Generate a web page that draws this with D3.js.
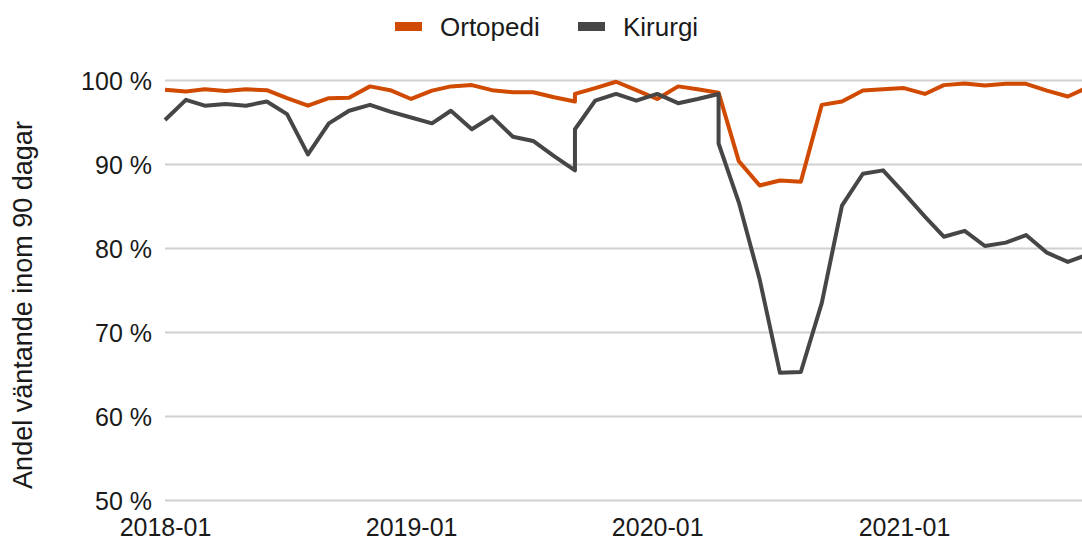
<!DOCTYPE html>
<html>
<head>
<meta charset="utf-8">
<script src="https://cdn.jsdelivr.net/npm/d3@7"></script>
<style>
body { margin: 0; background: #fff; }
svg { display: block; font-family: "Liberation Sans", Arial, sans-serif; }
</style>
</head>
<body>
<div class="chart"></div>
<script>
// data (percent waiting within 90 days)
// 2019-09 and 2020-04 appear twice: the series jump at those months
const months = [
  "2018-01","2018-02","2018-03","2018-04","2018-05","2018-06","2018-07","2018-08","2018-09","2018-10","2018-11","2018-12",
  "2019-01","2019-02","2019-03","2019-04","2019-05","2019-06","2019-07","2019-08","2019-09","2019-09","2019-10","2019-11","2019-12",
  "2020-01","2020-02","2020-03","2020-04","2020-04","2020-05","2020-06","2020-07","2020-08","2020-09","2020-10","2020-11","2020-12",
  "2021-01","2021-02","2021-03","2021-04","2021-05","2021-06","2021-07","2021-08","2021-09","2021-10"
];
const ortopedi = [
  98.9, 98.7, 98.95, 98.75, 98.95, 98.85, 97.9, 97.0, 97.9, 97.95, 99.3, 98.85,
  97.8, 98.8, 99.3, 99.45, 98.85, 98.6, 98.6, 98.0, 97.5, 98.4, 99.1, 99.85, 98.85,
  97.8, 99.3, 98.95, 98.55, 98.55, 90.4, 87.5, 88.1, 87.95, 97.1, 97.5, 98.8, 98.95,
  99.1, 98.4, 99.45, 99.65, 99.4, 99.6, 99.6, 98.8, 98.1, 99.2
];
const kirurgi = [
  95.3, 97.7, 97.0, 97.2, 97.0, 97.5, 96.0, 91.2, 94.9, 96.4, 97.1, 96.3,
  95.6, 94.9, 96.4, 94.2, 95.7, 93.3, 92.8, 91.0, 89.3, 94.2, 97.6, 98.4, 97.6,
  98.4, 97.3, 97.8, 98.4, 92.5, 85.5, 76.3, 65.2, 65.3, 73.5, 85.1, 88.9, 89.3,
  86.6, 83.8, 81.4, 82.1, 80.3, 80.7, 81.6, 79.5, 78.4, 79.3
];
const seriesNames = ["Ortopedi", "Kirurgi"];
const seriesColors = ["#d04a02", "#464646"];
const yTicks = [50, 60, 70, 80, 90, 100];
const xTicks = ["2018-01", "2019-01", "2020-01", "2021-01"];

const w = 1082;
const h = 543;
const parse = d3.utcParse("%Y-%m");

const svg = d3.select(".chart")
  .append("svg")
  .attr("width", w)
  .attr("height", h)
  .attr("viewBox", `0 0 ${w} ${h}`);

const x = d3.scaleUtc()
  .domain([parse("2018-01"), parse("2021-01")])
  .range([165, 904]);
const y = d3.scaleLinear()
  .domain([50, 100])
  .range([500.5, 80.5]);

// grid lines
svg.append("g").selectAll("line").data(yTicks).enter()
  .append("line")
  .attr("x1", x(parse("2018-01")))
  .attr("x2", w)
  .attr("y1", d => y(d))
  .attr("y2", d => y(d))
  .style("stroke", "#d0d0d0")
  .style("stroke-width", 2);

// y axis labels
const yAxis = svg.append("g")
  .attr("transform", "translate(152,0)")
  .call(d3.axisLeft(y).tickValues(yTicks).tickSize(0).tickPadding(0).tickFormat(d => d + " %"));
yAxis.select(".domain").remove();
yAxis.selectAll("text")
  .style("font-size", "25px")
  .style("font-family", "'Liberation Sans', Arial, sans-serif")
  .style("fill", "#1a1a1a")
  .attr("dy", "0.35em");

// x axis labels
const xAxis = svg.append("g")
  .attr("transform", "translate(0,518)")
  .call(d3.axisBottom(x).tickValues(xTicks.map(parse)).tickSize(0).tickPadding(0).tickFormat(d3.utcFormat("%Y-%m")));
xAxis.select(".domain").remove();
xAxis.selectAll("text")
  .style("font-size", "25px")
  .style("font-family", "'Liberation Sans', Arial, sans-serif")
  .style("fill", "#1a1a1a")
  .attr("dy", "0.71em");

// y title
svg.append("text")
  .attr("transform", "translate(32,305) rotate(-90)")
  .attr("text-anchor", "middle")
  .style("font-size", "27px")
  .style("fill", "#1a1a1a")
  .text("Andel väntande inom 90 dagar");

// lines
const line = d3.line()
  .x(d => x(d.date))
  .y(d => y(d.value));

[ortopedi, kirurgi].forEach((values, i) => {
  const data = months.map((m, j) => ({date: parse(m), value: values[j]}));
  svg.append("path")
    .attr("d", line(data))
    .style("fill", "none")
    .style("stroke", seriesColors[i])
    .style("stroke-width", 4)
    .style("stroke-linejoin", "round");
});

// legend
const legendX = [395, 578];
const legend = svg.append("g").selectAll("g").data(seriesNames).enter()
  .append("g")
  .attr("transform", (d, i) => `translate(${legendX[i]},0)`);
legend.append("rect")
  .attr("x", 0).attr("y", 22)
  .attr("width", 27).attr("height", 9)
  .style("fill", (d, i) => seriesColors[i]);
legend.append("text")
  .attr("x", 45).attr("y", 36)
  .style("font-size", "26px")
  .style("fill", "#1a1a1a")
  .text(d => d);
</script>
</body>
</html>
